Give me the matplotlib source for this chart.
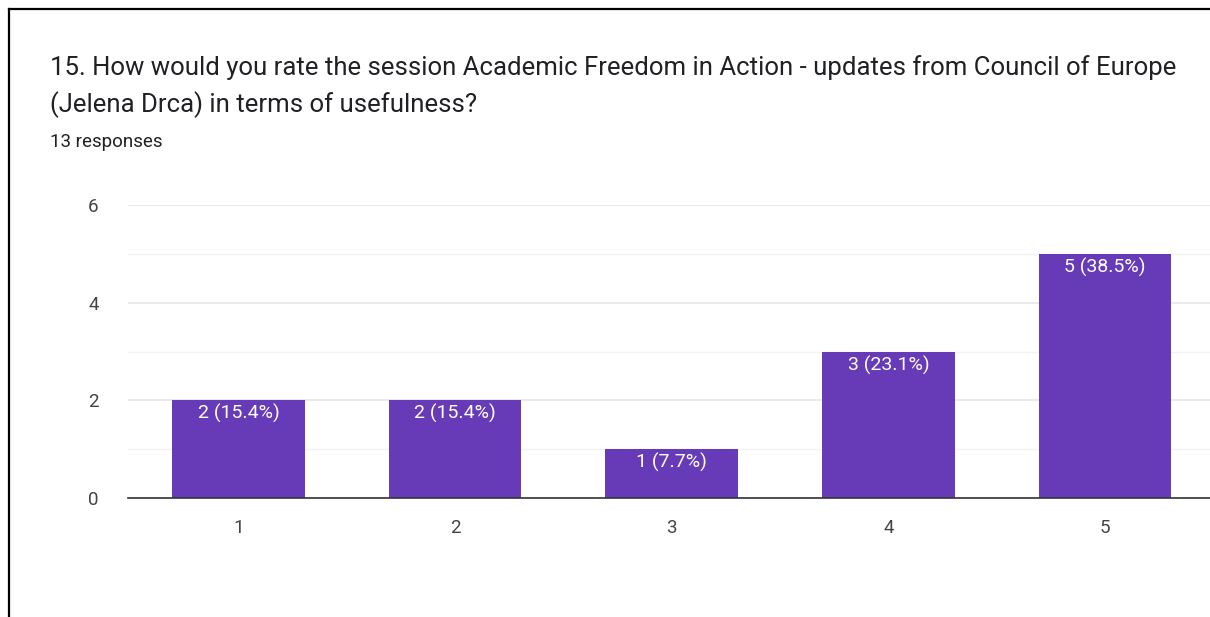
import matplotlib.pyplot as plt
from matplotlib.lines import Line2D

plt.rcParams['font.family'] = ['Roboto', 'DejaVu Sans']

title_lines = ['15. How would you rate the session Academic Freedom in Action - updates from Council of Europe',
               '(Jelena Drca) in terms of usefulness?']
subtitle = '13 responses'
ratings = [1, 2, 3, 4, 5]
counts = [2, 2, 1, 3, 5]
total = sum(counts)
bar_color = '#673AB7'

W, H = 1210, 617
fig = plt.figure(figsize=(W / 100, H / 100), dpi=100)

# screenshot frame (top and left edges)
fig.add_artist(Line2D([9 / W, 1.0], [1 - 9 / H, 1 - 9 / H], color='black', lw=1.6))
fig.add_artist(Line2D([9 / W, 9 / W], [0.0, 1 - 9 / H], color='black', lw=1.6))

for i, line in enumerate(title_lines):
    fig.text(50 / W, 1 - (68 + 37 * i) / H, line, fontsize=18.5, color='#202124',
             va='center', ha='left')
fig.text(50 / W, 1 - 142 / H, subtitle, fontsize=13.5, color='#202124',
         va='center', ha='left')

ax = fig.add_axes([128 / W, 1 - 498 / H, 1 - 128 / W, (498 - 205) / H])
bars = ax.bar(ratings, counts, width=0.613, color=bar_color, zorder=3)

for b, c in zip(bars, counts):
    ax.text(b.get_x() + b.get_width() / 2, c - 0.08, '%d (%.1f%%)' % (c, 100 * c / total),
            ha='center', va='top', color='white', fontsize=14, zorder=4)

ax.set_xlim(0.49, 5.485)
ax.set_ylim(0, 6)
ax.set_yticks([0, 2, 4, 6])
ax.set_yticks([1, 3, 5], minor=True)
ax.set_xticks(ratings)
ax.grid(axis='y', which='major', color='#e6e6e6', lw=1.2, zorder=0)
ax.grid(axis='y', which='minor', color='#f2f2f2', lw=1.0, zorder=0)
for s in ['top', 'right', 'left']:
    ax.spines[s].set_visible(False)
ax.spines['bottom'].set_color('#333333')
ax.spines['bottom'].set_linewidth(1.2)
ax.spines['bottom'].set_zorder(5)
ax.tick_params(axis='both', which='both', length=0, labelsize=13.5, labelcolor='#444444')
ax.tick_params(axis='y', pad=21)
ax.tick_params(axis='x', pad=15)

fig.savefig('out.png', dpi=100)
